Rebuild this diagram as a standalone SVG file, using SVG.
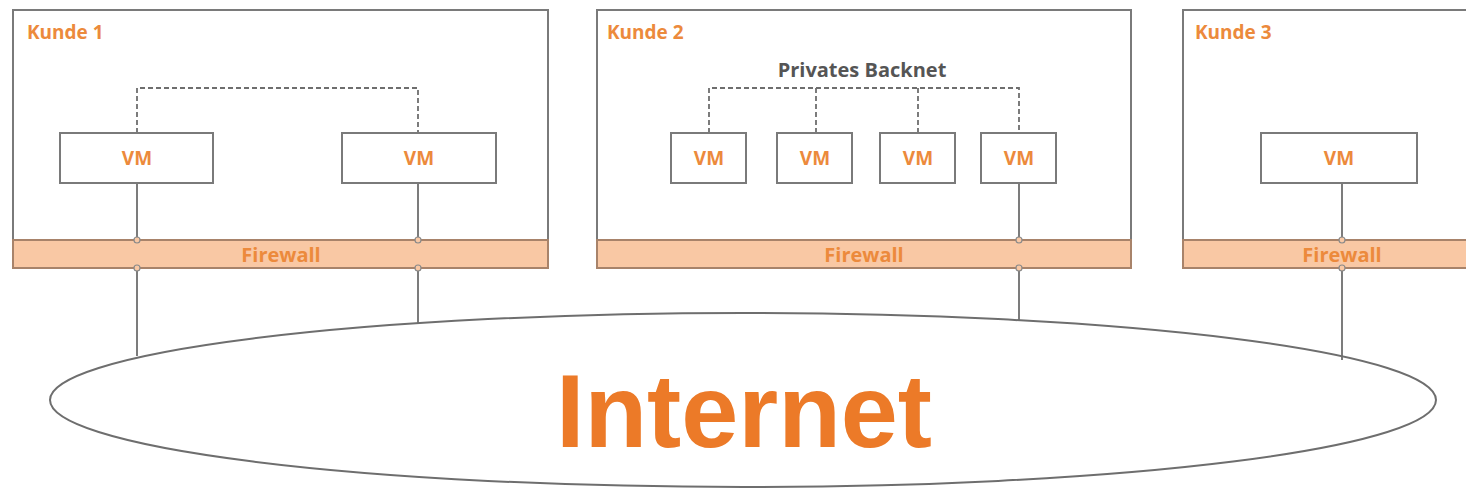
<svg xmlns="http://www.w3.org/2000/svg" width="1466" height="502" viewBox="0 0 1466 502">
<style>
.box{fill:#fff;stroke:#7a7a7a;stroke-width:2}
.fw{fill:#f9c8a4;stroke:#a8836a;stroke-width:2}
.vm{fill:#fff;stroke:#7a7a7a;stroke-width:2}
.lbl{font-family:"Open Sans","Liberation Sans",sans-serif;font-weight:bold;fill:#ec8a3c}
.k{font-size:19px}
.v{font-size:19px;text-anchor:middle}
.f{font-size:20px;text-anchor:middle}
.line{stroke:#6e6e6e;stroke-width:1.8;fill:none}
.dash{stroke:#6e6e6e;stroke-width:1.8;fill:none;stroke-dasharray:5 3}
.j{fill:#f9c8a4;stroke:#8a8a8a;stroke-width:1.2}
</style>
<rect width="1466" height="502" fill="#fff"/>
<g id="internet">
<ellipse cx="743" cy="400" rx="693" ry="87" fill="#fff" stroke="#6e6e6e" stroke-width="2"/>
<text x="744" y="447" text-anchor="middle" font-family="Liberation Sans, Arial, sans-serif" font-weight="bold" font-size="104" fill="#ec7a28" textLength="376" lengthAdjust="spacingAndGlyphs">Internet</text>
</g>
<g id="connectors">
<line class="line" x1="137" y1="268" x2="137" y2="356"/>
<line class="line" x1="418" y1="268" x2="418" y2="323"/>
<line class="line" x1="1019" y1="268" x2="1019" y2="321"/>
<line class="line" x1="1342" y1="268" x2="1342" y2="360"/>
</g>
<g id="kunde1">
<rect class="box" x="13" y="10" width="535" height="258"/>
<text class="lbl k" x="27" y="39">Kunde 1</text>
</g>
<g id="kunde2">
<rect class="box" x="597" y="10" width="534" height="258"/>
<text class="lbl k" x="607" y="39">Kunde 2</text>
<text x="862" y="77" text-anchor="middle" font-family="Open Sans, Liberation Sans, sans-serif" font-weight="bold" font-size="20" fill="#555">Privates Backnet</text>
</g>
<g id="kunde3">
<rect class="box" x="1183" y="10" width="300" height="258"/>
<text class="lbl k" x="1195" y="39">Kunde 3</text>
</g>
<g id="inner-connectors">
<path class="dash" d="M137 133 V88 H418 V133"/>
<path class="dash" d="M709 133 V88 H1019 V133 M816 88 V133 M918 88 V133"/>
<line class="line" x1="137" y1="183" x2="137" y2="240"/>
<line class="line" x1="418" y1="183" x2="418" y2="240"/>
<line class="line" x1="1019" y1="183" x2="1019" y2="240"/>
<line class="line" x1="1342" y1="183" x2="1342" y2="240"/>
</g>
<g id="firewall1">
<rect class="fw" x="13" y="240" width="535" height="28"/>
<text class="lbl f" x="281" y="262">Firewall</text>
</g>
<g id="firewall2">
<rect class="fw" x="597" y="240" width="534" height="28"/>
<text class="lbl f" x="864" y="262">Firewall</text>
</g>
<g id="firewall3">
<rect class="fw" x="1183" y="240" width="300" height="28"/>
<text class="lbl f" x="1342" y="262">Firewall</text>
</g>
<g id="junctions">
<circle class="j" cx="137" cy="240" r="3"/><circle class="j" cx="137" cy="268" r="3"/>
<circle class="j" cx="418" cy="240" r="3"/><circle class="j" cx="418" cy="268" r="3"/>
<circle class="j" cx="1019" cy="240" r="3"/><circle class="j" cx="1019" cy="268" r="3"/>
<circle class="j" cx="1342" cy="240" r="3"/><circle class="j" cx="1342" cy="268" r="3"/>
</g>
<g id="vm1a"><rect class="vm" x="60" y="133" width="153" height="50"/><text class="lbl v" x="137" y="165">VM</text></g>
<g id="vm1b"><rect class="vm" x="342" y="133" width="154" height="50"/><text class="lbl v" x="419" y="165">VM</text></g>
<g id="vm2a"><rect class="vm" x="671" y="133" width="75" height="50"/><text class="lbl v" x="709" y="165">VM</text></g>
<g id="vm2b"><rect class="vm" x="777" y="133" width="75" height="50"/><text class="lbl v" x="815" y="165">VM</text></g>
<g id="vm2c"><rect class="vm" x="880" y="133" width="75" height="50"/><text class="lbl v" x="918" y="165">VM</text></g>
<g id="vm2d"><rect class="vm" x="981" y="133" width="75" height="50"/><text class="lbl v" x="1019" y="165">VM</text></g>
<g id="vm3"><rect class="vm" x="1261" y="133" width="156" height="50"/><text class="lbl v" x="1339" y="165">VM</text></g>
</svg>
